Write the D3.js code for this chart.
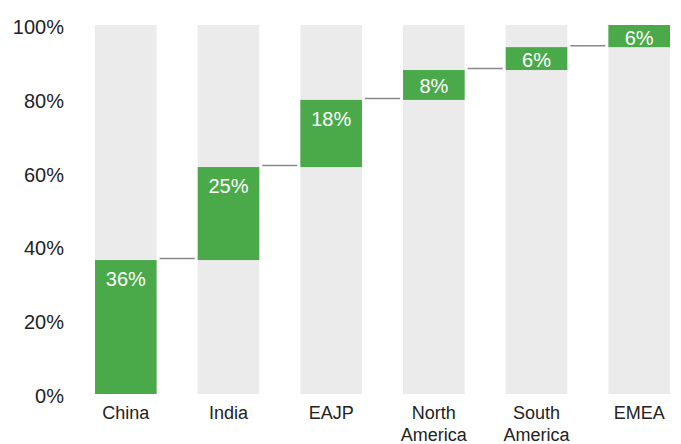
<!DOCTYPE html>
<html><head><meta charset="utf-8">
<script src="https://cdn.jsdelivr.net/npm/d3@7"></script>
<style>body{margin:0;background:#fff}svg{display:block}text{font-family:"Liberation Sans",Arial,sans-serif}</style>
</head><body><svg id="c" width="681" height="444"></svg>
<script>
const categories = ["China","India","EAJP","North America","South America","EMEA"];
const shares = [36.3, 25.2, 18.2, 8.1, 6.2, 6.0];
const shareLabels = ["36%","25%","18%","8%","6%","6%"];
const yTicks = [0,20,40,60,80,100];

const svg = d3.select("#c");
const x = d3.scaleBand().domain(categories).range([95,670]).paddingInner(0.4).paddingOuter(0);
const y = d3.scaleLinear().domain([0,100]).range([394,25]);

let cum = 0;
const rows = categories.map((c,i)=>{const s=cum; cum+=shares[i]; return {c, start:s, end:cum, label:shareLabels[i]};});

// background bars
svg.selectAll("rect.bg").data(rows).join("rect").attr("class","bg")
  .attr("x",d=>x(d.c)).attr("width",x.bandwidth())
  .attr("y",y(100)).attr("height",y(0)-y(100)).attr("fill","#ebebeb");
// green segments
svg.selectAll("rect.seg").data(rows).join("rect").attr("class","seg")
  .attr("x",d=>x(d.c)).attr("width",x.bandwidth())
  .attr("y",d=>y(d.end)).attr("height",d=>y(d.start)-y(d.end)).attr("fill","#4aaa4a");
// connectors
svg.selectAll("line.conn").data(rows.slice(0,-1)).join("line").attr("class","conn")
  .attr("x1",d=>x(d.c)+x.bandwidth()+3)
  .attr("x2",(d,i)=>x(categories[i+1])-3)
  .attr("y1",d=>y(d.end)-1.5).attr("y2",d=>y(d.end)-1.5)
  .attr("stroke","#888").attr("stroke-width",1.5);
// value labels
svg.selectAll("text.val").data(rows).join("text").attr("class","val")
  .attr("x",d=>x(d.c)+x.bandwidth()/2)
  .attr("y",d=>{const top=y(d.end), mid=(y(d.end)+y(d.start))/2; return Math.min(top+19, mid+1.5);})
  .attr("dy","0.35em").attr("text-anchor","middle").attr("fill","#fff")
  .attr("font-size",20).text(d=>d.label);
// y axis labels
const yAxis = d3.axisLeft(y).tickValues(yTicks).tickFormat(d=>d+"%").tickSize(0).tickPadding(0);
const ga = svg.append("g").attr("transform","translate(64,2)").call(yAxis);
ga.select(".domain").remove();
ga.selectAll("text").attr("font-size",20).attr("fill","#222").attr("font-family",'"Liberation Sans",Arial,sans-serif');
// category labels
const xl = svg.selectAll("text.cat").data(categories).join("text").attr("class","cat")
  .attr("x",d=>x(d)+x.bandwidth()/2).attr("y",413).attr("dy","0.35em")
  .attr("text-anchor","middle").attr("font-size",18).attr("fill","#222");
xl.each(function(d){
  const parts=d.split(" "); const t=d3.select(this);
  parts.forEach((p,i)=>t.append("tspan").attr("x",x(d)+x.bandwidth()/2).attr("dy",i===0?"0.35em":"22px").text(p));
});
</script></body></html>
